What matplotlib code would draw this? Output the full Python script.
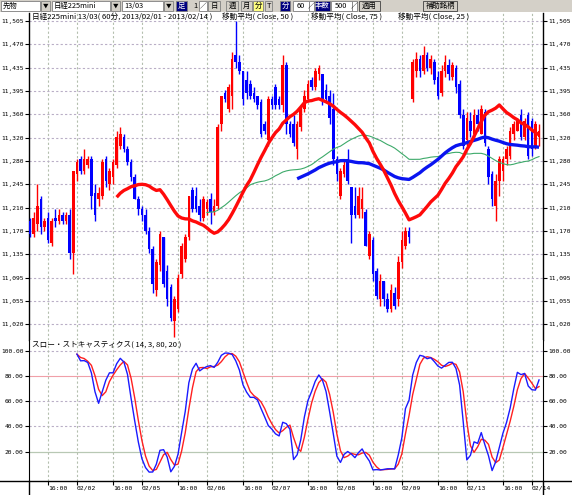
import numpy as np
import pandas as pd
import matplotlib
matplotlib.use("Agg")
import matplotlib.pyplot as plt
from matplotlib.patches import Rectangle
from matplotlib.lines import Line2D

# ---------------- data (60-min bars, 2013/02/01 - 2013/02/14) ----------------
opens = [11185, 11165, 11180, 11220, 11175, 11190, 11150, 11190, 11185, 11195,
         11185, 11195, 11135, 11260, 11285, 11265, 11275, 11285, 11230, 11220,
         11225, 11285, 11245, 11255, 11275, 11305, 11320, 11300, 11280, 11255,
         11220, 11205, 11195, 11170, 11140, 11075, 11115, 11160, 11105, 11080,
         11025, 11045, 11100, 11125, 11160, 11235, 11225, 11210, 11190, 11205,
         11220, 11200, 11210, 11340, 11390, 11365, 11385, 11450, 11440, 11425,
         11410, 11405, 11390, 11385, 11375, 11340, 11315, 11380, 11400, 11380,
         11370, 11435, 11340, 11340, 11300, 11335, 11365, 11380, 11410, 11400,
         11420, 11420, 11395, 11385, 11365, 11285, 11225, 11260, 11285, 11240,
         11210, 11195, 11205, 11200, 11130, 11155, 11105, 11060, 11090, 11060,
         11045, 11070, 11060, 11120, 11145, 11170, 11380, 11425, 11445, 11425,
         11450, 11430, 11440, 11415, 11390, 11425, 11435, 11415, 11430, 11405,
         11355, 11315, 11345, 11325, 11355, 11325, 11360, 11300, 11260, 11210,
         11250, 11265, 11285, 11290, 11325, 11330, 11355, 11320, 11355, 11345,
         11305, 11320]
highs = [11190, 11200, 11245, 11225, 11190, 11200, 11190, 11205, 11205, 11200,
         11200, 11205, 11265, 11285, 11290, 11300, 11290, 11290, 11245, 11240,
         11285, 11290, 11270, 11285, 11330, 11335, 11325, 11305, 11285, 11260,
         11225, 11210, 11205, 11175, 11145, 11125, 11170, 11160, 11115, 11085,
         11065, 11100, 11150, 11165, 11225, 11240, 11240, 11220, 11225, 11220,
         11230, 11220, 11340, 11385, 11395, 11405, 11455, 11505, 11450, 11425,
         11425, 11410, 11400, 11385, 11380, 11345, 11385, 11385, 11405, 11385,
         11450, 11440, 11345, 11355, 11345, 11370, 11395, 11410, 11415, 11430,
         11435, 11420, 11405, 11395, 11390, 11290, 11270, 11285, 11300, 11240,
         11240, 11240, 11240, 11205, 11170, 11160, 11110, 11100, 11090, 11070,
         11085, 11080, 11130, 11170, 11175, 11175, 11445, 11455, 11450, 11465,
         11455, 11450, 11445, 11425, 11435, 11450, 11445, 11440, 11435, 11410,
         11365, 11360, 11360, 11365, 11365, 11370, 11365, 11305, 11265, 11260,
         11290, 11290, 11305, 11335, 11345, 11350, 11365, 11350, 11360, 11350,
         11345, 11340]
lows = [11160, 11160, 11170, 11165, 11170, 11150, 11145, 11175, 11180, 11180,
        11180, 11125, 11100, 11250, 11260, 11260, 11270, 11205, 11185, 11210,
        11220, 11240, 11235, 11245, 11270, 11300, 11295, 11275, 11250, 11220,
        11195, 11185, 11165, 11135, 11070, 11065, 11105, 11080, 11050, 11025,
        11000, 11040, 11095, 11120, 11155, 11200, 11200, 11185, 11185, 11195,
        11180, 11195, 11205, 11330, 11375, 11360, 11365, 11430, 11420, 11370,
        11380, 11380, 11375, 11365, 11320, 11325, 11305, 11365, 11365, 11365,
        11360, 11325, 11320, 11305, 11285, 11330, 11360, 11375, 11395, 11395,
        11410, 11370, 11375, 11340, 11275, 11250, 11220, 11255, 11245, 11150,
        11190, 11190, 11190, 11145, 11125, 11090, 11060, 11050, 11050, 11040,
        11040, 11045, 11050, 11110, 11140, 11150, 11375, 11415, 11415, 11420,
        11425, 11420, 11405, 11380, 11385, 11415, 11410, 11410, 11390, 11350,
        11300, 11305, 11320, 11315, 11330, 11325, 11305, 11245, 11210, 11185,
        11225, 11250, 11275, 11285, 11315, 11330, 11315, 11315, 11285, 11290,
        11300, 11305]
closes = [11165, 11190, 11210, 11175, 11185, 11155, 11185, 11185, 11195, 11185,
          11195, 11135, 11265, 11280, 11265, 11285, 11285, 11225, 11195, 11230,
          11280, 11250, 11265, 11280, 11320, 11325, 11300, 11280, 11255, 11220,
          11205, 11195, 11170, 11140, 11085, 11120, 11165, 11085, 11060, 11030,
          11060, 11095, 11145, 11160, 11225, 11205, 11205, 11195, 11220, 11215,
          11200, 11210, 11335, 11385, 11380, 11400, 11445, 11440, 11425, 11380,
          11390, 11385, 11380, 11370, 11325, 11330, 11380, 11370, 11370, 11370,
          11435, 11340, 11325, 11310, 11340, 11365, 11385, 11405, 11400, 11425,
          11430, 11380, 11380, 11350, 11285, 11260, 11265, 11275, 11250, 11195,
          11195, 11225, 11220, 11145, 11165, 11100, 11065, 11090, 11060, 11045,
          11075, 11050, 11120, 11155, 11170, 11160, 11440, 11445, 11425, 11450,
          11430, 11445, 11410, 11385, 11425, 11440, 11420, 11435, 11400, 11355,
          11305, 11350, 11330, 11355, 11340, 11365, 11310, 11255, 11220, 11250,
          11285, 11285, 11300, 11330, 11340, 11345, 11320, 11345, 11290, 11300,
          11340, 11330]

price_tick_labels = ["11,505", "11,470", "11,435", "11,395", "11,360", "11,320",
                     "11,280", "11,245", "11,210", "11,170", "11,135", "11,095",
                     "11,055", "11,020"]
stoch_tick_values = [20, 40, 60, 80, 100]
time_tick_bars = [5, 13, 23, 31, 41, 49, 59, 67, 77, 85, 95, 103, 113, 121, 131, 139]
time_tick_labels = ["16:00", "02/02", "16:00", "02/05", "16:00", "02/06", "16:00", "02/07",
                    "16:00", "02/08", "16:00", "02/09", "16:00", "02/13", "16:00", "02/14"]

# ---------------- derived indicators ----------------
c = pd.Series(closes, dtype=float)
h = pd.Series(highs, dtype=float)
l = pd.Series(lows, dtype=float)
ma25 = c.rolling(25).mean()
ma50 = c.rolling(50).mean()
ma75 = c.rolling(75).mean()
hh = h.rolling(14).max()
ll = l.rolling(14).min()
k_line = 100 * (c - ll).rolling(3, min_periods=1).sum() / (hh - ll).rolling(3, min_periods=1).sum()
d_line = k_line.rolling(3, min_periods=1).mean()

# ---------------- figure ----------------
W, H = 572, 495
fig = plt.figure(figsize=(W / 100, H / 100), dpi=100)
fig.patch.set_facecolor("white")

def fx(px):
    return px / W

def fy(py):
    return 1 - py / H

JP = ["Noto Sans CJK JP", "DejaVu Sans"]
MONO = "DejaVu Sans Mono"
GRID_C = "#b9aec6"
GRID_V = "#b4bfae"
TICK_FS = 4.5

x_left, x_right = 29, 543
ax = fig.add_axes([fx(x_left), fy(340), fx(x_right) - fx(x_left), fy(13) - fy(340)])
ax2 = fig.add_axes([fx(x_left), fy(481), fx(x_right) - fx(x_left), fy(340) - fy(481)])

n = len(closes)
xs = np.arange(n)
xlim = (-0.28, 142.1)

# candles
for i in range(n):
    o, hi, lo, cl = opens[i], highs[i], lows[i], closes[i]
    col = "#ff0000" if cl >= o else "#0000ff"
    ax.vlines(i, lo, hi, color=col, lw=1.0, zorder=3)
    body = max(abs(cl - o), 2.0)
    ax.bar(i, body, bottom=min(o, cl), width=0.72, color=col, lw=0, zorder=3)

ax.plot(xs, ma50, color="#3daa6a", lw=0.8, zorder=4)
ax.plot(xs, ma75, color="#0a14f0", lw=2.4, zorder=5, solid_capstyle="butt")
ax.plot(xs, ma25, color="#ff0a0a", lw=2.4, zorder=5, solid_capstyle="butt")

ax.set_xlim(*xlim)
ax.set_ylim(10995.2, 11517.8)
ytick_pos = np.linspace(11505, 11020, len(price_tick_labels))
ax.set_yticks(ytick_pos)
ax.set_yticklabels(price_tick_labels)
ax.set_xticks(time_tick_bars)
ax.tick_params(axis="x", length=0, labelbottom=False)
ax.tick_params(axis="y", direction="out", length=3, width=0.8, color="black",
               left=True, right=True, labelleft=True, labelright=True, pad=0.8,
               labelsize=TICK_FS)
for lab in ax.get_yticklabels():
    lab.set_family(MONO)
ax.grid(True, axis="y", color=GRID_C, lw=0.8, ls=(0, (2, 2)))
ax.grid(True, axis="x", color=GRID_V, lw=0.8, ls=(0, (2, 2)))
ax.set_axisbelow(True)
for s in ["top", "bottom"]:
    ax.spines[s].set_visible(False)
for s in ["left", "right"]:
    ax.spines[s].set_linewidth(1.0)

# stochastic panel
ax2.plot(xs, d_line, color="#ff2020", lw=1.0, zorder=4)
ax2.plot(xs, k_line, color="#1a1aff", lw=1.0, zorder=5)
ax2.set_xlim(*xlim)
ax2.set_ylim(-3.2, 108.5)
ax2.set_yticks(stoch_tick_values)
ax2.set_yticklabels([f"{v:.2f}" for v in stoch_tick_values])
ax2.tick_params(axis="y", direction="out", length=3, width=0.8, left=True, right=True,
                labelleft=True, labelright=True, pad=0.8, labelsize=TICK_FS)
for lab in ax2.get_yticklabels():
    lab.set_family(MONO)
for v in [100, 60, 40]:
    ax2.axhline(v, color=GRID_C, lw=0.8, ls=(0, (2, 2)), zorder=1)
ax2.axhline(80, color="#f0a0a8", lw=0.8, zorder=1)
ax2.axhline(20, color="#b8c8b4", lw=0.9, zorder=1)
for xb in time_tick_bars:
    ax2.axvline(xb, color=GRID_V, lw=0.8, ls=(0, (2, 2)), zorder=1)
ax2.set_xticks(time_tick_bars)
ax2.set_xticklabels(time_tick_labels, ha="left")
ax2.tick_params(axis="x", direction="out", length=3, width=0.8, pad=0.6, labelsize=4.6)
for lab in ax2.get_xticklabels():
    lab.set_family(MONO)
ax2.spines["top"].set_visible(False)
ax2.spines["bottom"].set_visible(False)

# frame lines extending to the figure edges
fig.add_artist(Line2D([0, 1], [fy(481), fy(481)], transform=fig.transFigure, color="black", lw=1.0))
fig.add_artist(Line2D([fx(x_left), fx(x_left)], [fy(481), 0], transform=fig.transFigure, color="black", lw=1.0))
fig.add_artist(Line2D([fx(x_right), fx(x_right)], [fy(481), 0], transform=fig.transFigure, color="black", lw=1.0))

# titles
TFS = 5.5
fig.text(fx(32), fy(16.5), "日経225mini 13/03( 60分, 2013/02/01 - 2013/02/14 )",
         family=JP, fontsize=TFS, va="center", ha="left")
fig.text(fx(222), fy(16.5), "移動平均( Close, 50 )", family=JP, fontsize=TFS, va="center", ha="left")
fig.text(fx(311), fy(16.5), "移動平均( Close, 75 )", family=JP, fontsize=TFS, va="center", ha="left")
fig.text(fx(398), fy(16.5), "移動平均( Close, 25 )", family=JP, fontsize=TFS, va="center", ha="left")
fig.text(fx(32), fy(345), "スロー・ストキャスティクス( 14, 3, 80, 20 )", family=JP,
         fontsize=TFS, va="center", ha="left")

# toolbar
TB = "#d4d0c8"
fig.add_artist(Rectangle((0, fy(12)), 1, 1 - fy(12), transform=fig.transFigure,
                         facecolor=TB, edgecolor="none", zorder=0))

def box(x0, x1, fc, txt=None, tc="black", ha="left", edge="#808080", fs=5.3):
    fig.add_artist(Rectangle((fx(x0), fy(11)), fx(x1) - fx(x0), fy(1) - fy(11),
                             transform=fig.transFigure, facecolor=fc, edgecolor=edge,
                             lw=0.6, zorder=1))
    if txt:
        tx = fx(x0 + 2) if ha == "left" else fx((x0 + x1) / 2)
        fig.text(tx, fy(6), txt, family=JP, fontsize=fs, color=tc, va="center", ha=ha, zorder=2)

box(1, 40, "white", "先物")
box(41, 50, TB, "▼", ha="center", fs=4)
box(52, 110, "white", "日経225mini")
box(111, 120, TB, "▼", ha="center", fs=4)
box(122, 163, "white", "13/03")
box(164, 173, TB, "▼", ha="center", fs=4)
box(176, 187, "#000080", "足", tc="white", ha="center")
fig.text(fx(195), fy(6), "1", family=JP, fontsize=5.3, va="center", ha="center")
box(199, 207, "white", "∕", ha="center", fs=5)
box(208, 220, TB, "日", ha="center")
box(226, 238, TB, "週", ha="center")
box(241, 252, TB, "月", ha="center")
box(253, 263, "#ffff80", "分", ha="center")
box(265, 272, TB, "T", ha="center")
box(280, 290, "#000080", "分", tc="white", ha="center")
box(293, 309, "white", "60", ha="center")
box(309, 314, "white", "∕", ha="center", fs=5)
box(315, 330, "#000080", "本数", tc="white", ha="center")
box(331, 352, "white", "500", ha="center")
box(352, 357, "white", "∕", ha="center", fs=5)
box(359, 380, TB, "適用", ha="center", edge="#404040")
box(423, 457, TB, "補助銘柄", ha="center", edge="#404040")

fig.savefig("out.png", dpi=100)
